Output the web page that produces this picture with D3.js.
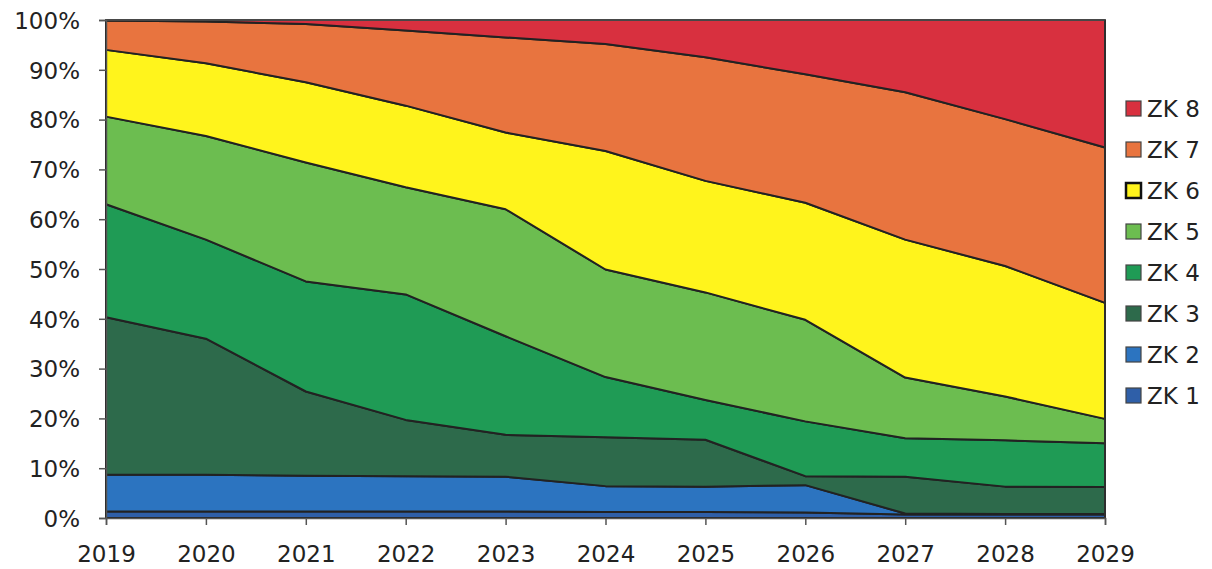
<!DOCTYPE html>
<html>
<head>
<meta charset="utf-8">
<script src="https://cdn.jsdelivr.net/npm/d3@7"></script>
<style>
  body { margin: 0; background: #fff; }
  text { font-family: "DejaVu Sans", sans-serif; fill: #222; }
</style>
</head>
<body>
<div id="chart"></div>
<script>
const years = [2019, 2020, 2021, 2022, 2023, 2024, 2025, 2026, 2027, 2028, 2029];
const zk1 = [1.3, 1.3, 1.3, 1.3, 1.3, 1.2, 1.2, 1.1, 0.7, 0.7, 0.7];
const zk2 = [7.4, 7.4, 7.2, 7.1, 7.0, 5.2, 5.1, 5.5, 0.2, 0.1, 0.1];
const zk3 = [31.6, 27.3, 16.9, 11.3, 8.4, 9.8, 9.4, 1.8, 7.4, 5.5, 5.4];
const zk4 = [22.7, 19.9, 22.1, 25.2, 19.8, 12.1, 8.0, 11.0, 7.7, 9.3, 8.8];
const zk5 = [17.6, 20.8, 23.9, 21.5, 25.5, 21.6, 21.6, 20.4, 12.2, 8.8, 4.9];
const zk6 = [13.4, 14.6, 16.1, 16.4, 15.4, 23.8, 22.4, 23.5, 27.7, 26.2, 23.3];
const zk7 = [5.9, 8.4, 11.7, 15.1, 19.1, 21.5, 24.8, 25.8, 29.6, 29.5, 31.2];
const zk8 = [0.1, 0.3, 0.8, 2.1, 3.5, 4.8, 7.5, 10.9, 14.5, 19.9, 25.6];

const seriesNames = ["ZK 1", "ZK 2", "ZK 3", "ZK 4", "ZK 5", "ZK 6", "ZK 7", "ZK 8"];
const seriesValues = [zk1, zk2, zk3, zk4, zk5, zk6, zk7, zk8];
const colors = ["#2f5fa8", "#2c74c0", "#2d6a4b", "#1f9b55", "#6cbd50", "#fff41c", "#e8743f", "#d8303f"];

const width = 1212, height = 569,
      margin = ({ top: 20, right: 107, bottom: 51, left: 106 });

let table = years.map((y, i) => {
    let row = { year: y };
    seriesNames.forEach((n, k) => row[n] = seriesValues[k][i]);
    return row;
});

let stacked = d3.stack()
    .keys(seriesNames)
    .offset(d3.stackOffsetExpand)(table);

let svg = d3.select("#chart")
    .append("svg")
    .attr("width", width)
    .attr("height", height);

let x = d3.scaleLinear()
    .domain([2019, 2029])
    .range([margin.left, width - margin.right]);

let y = d3.scaleLinear()
    .domain([0, 1])
    .range([height - margin.bottom, margin.top]);

let area = d3.area()
    .x(d => x(d.data.year))
    .y0(d => y(d[0]))
    .y1(d => y(d[1]));

svg.append("g")
    .selectAll("path")
    .data(stacked)
    .join("path")
    .attr("fill", (d, i) => colors[i])
    .attr("stroke", "#222")
    .attr("stroke-width", 2)
    .attr("stroke-linejoin", "round")
    .attr("d", area);

// frame on top and right
svg.append("line")
    .attr("x1", x(2019)).attr("x2", x(2029))
    .attr("y1", y(1)).attr("y2", y(1))
    .attr("stroke", "#555").attr("stroke-width", 1.5);
svg.append("line")
    .attr("x1", x(2029)).attr("x2", x(2029))
    .attr("y1", y(1)).attr("y2", y(0))
    .attr("stroke", "#333").attr("stroke-width", 1.5);

let yAxis = svg.append("g")
    .attr("transform", `translate(${margin.left},0)`)
    .call(d3.axisLeft(y).ticks(10, "0%").tickSize(7).tickPadding(19));

let xAxis = svg.append("g")
    .attr("transform", `translate(0,${height - margin.bottom})`)
    .call(d3.axisBottom(x).tickValues(years).tickFormat(d3.format("d")).tickSize(7).tickPadding(21));

[yAxis, xAxis].forEach(a => {
    a.select(".domain").attr("stroke", "#555").attr("stroke-width", 1.5);
    a.selectAll(".tick line").attr("stroke", "#555").attr("stroke-width", 1.5);
    a.selectAll("text").style("font-size", "23px").attr("fill", "#222");
});
yAxis.selectAll("text").attr("dy", "0.36em");

let legend = svg.append("g")
    .selectAll("g")
    .data(seriesNames.map((n, i) => ({ name: n, color: colors[i], idx: i })).reverse())
    .join("g")
    .attr("transform", (d, i) => `translate(1126,${101 + i * 41})`);

legend.append("rect")
    .attr("width", 15)
    .attr("height", 15)
    .attr("fill", d => d.color)
    .attr("stroke", d => d.idx === 5 ? "#111" : "#444")
    .attr("stroke-width", d => d.idx === 5 ? 2.5 : 1.2);

legend.append("text")
    .attr("x", 21)
    .attr("y", 8)
    .attr("dy", "0.36em")
    .style("font-size", "23px")
    .text(d => d.name);
</script>
</body>
</html>
